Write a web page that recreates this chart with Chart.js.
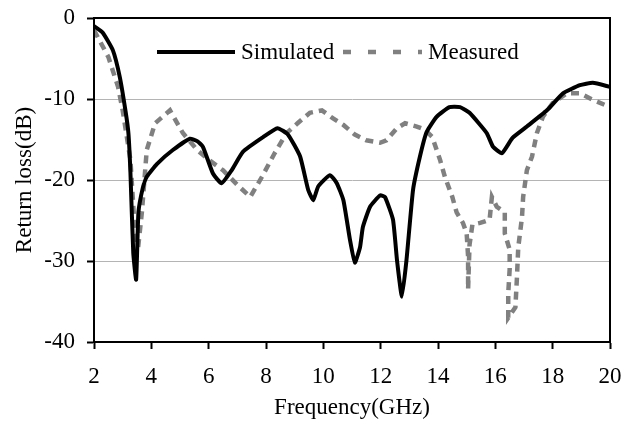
<!DOCTYPE html>
<html>
<head>
<meta charset="utf-8">
<script src="https://cdn.jsdelivr.net/npm/chart.js@4/dist/chart.umd.min.js"></script>
<style>
  html, body { margin: 0; padding: 0; background: #fff; }
  #wrap { width: 631px; height: 425px; position: relative; }
</style>
</head>
<body>
<div id="wrap"><canvas id="lossChart"></canvas></div>
<script>
const simFreq = [2.0, 2.3, 2.66, 2.9, 3.1, 3.2, 3.27, 3.37, 3.47, 3.55, 3.7, 3.84, 4.2, 4.75, 5.35, 5.6, 5.8,
  6.15, 6.45, 6.8, 7.2, 7.9, 8.4, 8.77, 9.19, 9.47, 9.65, 9.82, 10.23, 10.47, 10.7, 10.93, 11.1, 11.28,
  11.38, 11.63, 11.98, 12.15, 12.43, 12.57, 12.74, 12.9, 13.13, 13.37, 13.6, 13.95, 14.4, 14.77, 15.1,
  15.7, 15.92, 16.23, 16.6, 17.1, 17.8, 18.36, 18.95, 19.4, 20.0];
const simLoss = [-1.0, -1.8, -4.0, -7.3, -11.5, -14.2, -19.0, -29.0, -32.3, -24.0, -21.0, -19.6, -18.0, -16.3,
  -14.9, -15.2, -15.9, -19.2, -20.4, -18.8, -16.5, -14.7, -13.6, -14.4, -17.1, -21.2, -22.5, -20.8, -19.4,
  -20.4, -22.5, -27.4, -30.2, -28.3, -25.8, -23.3, -21.9, -22.1, -24.9, -29.9, -34.4, -29.9, -21.2, -17.1,
  -14.1, -12.2, -11.0, -11.0, -11.7, -14.2, -15.9, -16.7, -14.8, -13.4, -11.4, -9.3, -8.3, -8.0, -8.5];

const measFreq = [2.0, 2.5, 2.84, 3.0, 3.27, 3.43, 3.54, 3.67, 3.84, 4.13, 4.65, 5.1, 5.6, 6.0, 6.5, 7.0, 7.45,
  7.86, 8.3, 8.72, 9.1, 9.53, 9.95, 10.34, 10.7, 11.1, 11.5, 11.98, 12.2, 12.57, 12.85, 13.26, 13.55, 13.8,
  14.07, 14.24, 14.5, 14.65, 14.87, 15.0, 15.05, 15.05, 15.1, 15.2, 15.47, 15.8, 15.88, 16.05, 16.33, 16.33,
  16.5, 16.5, 16.45, 16.45, 16.7, 16.75, 16.8, 16.93, 16.97, 17.1, 17.28, 17.45, 17.66, 18.0, 18.5, 18.95,
  19.4, 20.0];
const measLoss = [-1.5, -4.8, -8.5, -11.4, -17.5, -26.6, -28.3, -24.0, -16.3, -13.0, -11.4, -14.2, -16.3, -17.5,
  -18.8, -20.6, -22.1, -19.6, -16.7, -14.2, -13.0, -11.7, -11.4, -12.4, -13.2, -14.4, -15.1, -15.4, -15.1,
  -13.6, -13.0, -13.4, -13.8, -14.7, -17.5, -19.6, -22.1, -24.0, -25.3, -26.6, -29.5, -33.5, -28.0, -25.5,
  -25.3, -24.9, -22.1, -23.3, -24.0, -26.6, -28.6, -31.0, -34.0, -37.0, -35.7, -32.3, -28.3, -24.6, -22.1,
  -18.8, -17.1, -14.2, -12.2, -10.5, -9.3, -9.3, -10.1, -11.0];

const xTicks = [2, 4, 6, 8, 10, 12, 14, 16, 18, 20];
const yTicks = [0, -10, -20, -30, -40];

const serif = "'Liberation Serif', 'DejaVu Serif', serif";

function toPoints(xs, ys) {
  return xs.map((x, i) => ({ x, y: ys[i] }));
}

// legend sits inside the plot, near the top
const insideLegend = {
  id: "insideLegend",
  afterDraw(chart) {
    const ctx = chart.ctx;
    const y = 52;
    const items = [
      { ds: chart.data.datasets[0], x0: 157, x1: 235, tx: 241, dash: [] },
      { ds: chart.data.datasets[1], x0: 343, x1: 422, tx: 428, dash: [8, 17] },
    ];
    ctx.save();
    items.forEach((it) => {
      ctx.beginPath();
      ctx.setLineDash(it.dash);
      ctx.lineWidth = it.ds.borderWidth;
      ctx.strokeStyle = it.ds.borderColor;
      ctx.moveTo(it.x0, y);
      ctx.lineTo(it.x1, y);
      ctx.stroke();
      ctx.setLineDash([]);
      ctx.fillStyle = "#000";
      ctx.font = "23px " + serif;
      ctx.textBaseline = "middle";
      ctx.fillText(it.ds.label, it.tx, y + 1);
    });
    ctx.restore();
  },
};

const frameBox = {
  id: "frameBox",
  afterDatasetsDraw(chart) {
    const { ctx, chartArea: a } = chart;
    ctx.save();
    ctx.strokeStyle = "#000";
    ctx.lineWidth = 2;
    ctx.strokeRect(a.left, a.top, a.right - a.left, a.bottom - a.top);
    ctx.restore();
  },
};

new Chart(document.getElementById("lossChart").getContext("2d"), {
  type: "line",
  data: {
    datasets: [
      {
        label: "Simulated",
        data: toPoints(simFreq, simLoss),
        borderColor: "#000000",
        borderWidth: 4,
        pointRadius: 0,
        tension: 0.15,
      },
      {
        label: "Measured",
        data: toPoints(measFreq, measLoss),
        borderColor: "#808080",
        borderWidth: 4.5,
        borderDash: [8, 6],
        pointRadius: 0,
        tension: 0,
      },
    ],
  },
  options: {
    responsive: true,
    maintainAspectRatio: false,
    animation: false,
    layout: { padding: { top: 18, right: 21, left: 0, bottom: 0 } },
    plugins: { legend: { display: false }, tooltip: { enabled: false } },
    scales: {
      x: {
        type: "linear",
        min: 2,
        max: 20,
        afterFit: (s) => { s.height = 83; s.paddingLeft = 0; s.paddingRight = 0; },
        afterBuildTicks: (s) => { s.ticks = xTicks.map((v) => ({ value: v })); },
        ticks: { color: "#000", padding: 14, font: { family: serif, size: 23 } },
        grid: { drawOnChartArea: false, tickLength: 7, tickColor: "#000", tickWidth: 2 },
        border: { color: "#000", width: 2 },
        title: {
          display: true,
          text: "Frequency(GHz)",
          color: "#000",
          font: { family: serif, size: 23 },
          padding: { top: 0, bottom: 3 },
        },
      },
      y: {
        min: -40,
        max: 0,
        afterFit: (s) => { s.width = 94; s.paddingTop = 0; s.paddingBottom = 0; },
        afterBuildTicks: (s) => { s.ticks = yTicks.map((v) => ({ value: v })); },
        ticks: { color: "#000", padding: 12, font: { family: serif, size: 23 } },
        grid: { color: "#b4b4b4", lineWidth: 1, tickLength: 7, tickColor: "#000", tickWidth: 2 },
        border: { color: "#000", width: 2 },
        title: {
          display: true,
          text: "Return loss(dB)",
          color: "#000",
          font: { family: serif, size: 23 },
          padding: { top: 11, bottom: 0 },
        },
      },
    },
  },
  plugins: [insideLegend, frameBox],
});
</script>
</body>
</html>
